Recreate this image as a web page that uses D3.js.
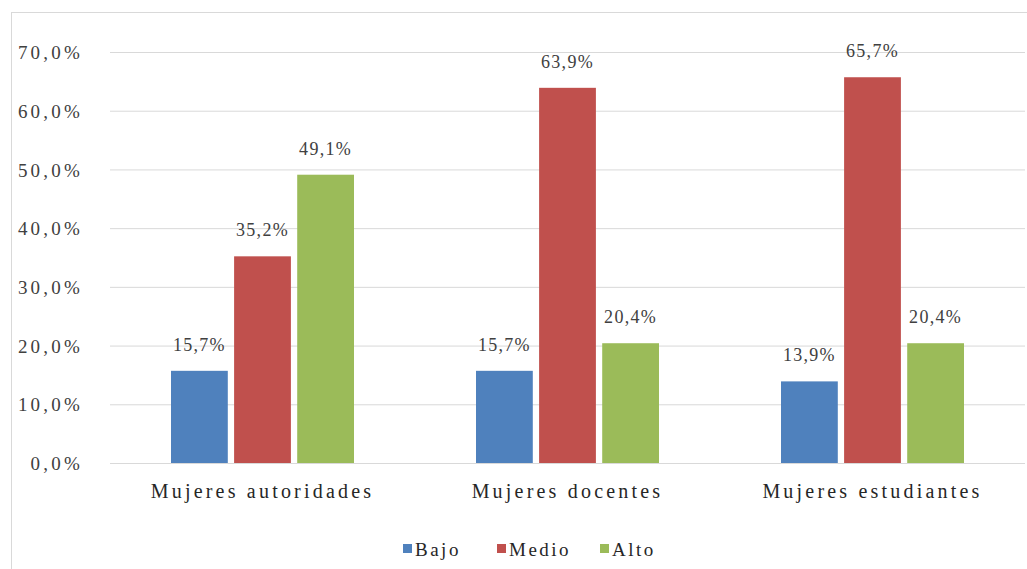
<!DOCTYPE html>
<html>
<head>
<meta charset="utf-8">
<script src="https://cdn.jsdelivr.net/npm/d3@7"></script>
<style>
  html, body { margin: 0; padding: 0; background: #fff; }
  svg { display: block; }
</style>
</head>
<body>
<svg id="chart" width="1027" height="569" font-family="Liberation Serif"></svg>
<script>
const categories = ["Mujeres autoridades", "Mujeres docentes", "Mujeres estudiantes"];
const seriesNames = ["Bajo", "Medio", "Alto"];
const bajo = [15.7, 15.7, 13.9];
const medio = [35.2, 63.9, 65.7];
const alto = [49.1, 20.4, 20.4];
const bajoLabels = ["15,7%", "15,7%", "13,9%"];
const medioLabels = ["35,2%", "63,9%", "65,7%"];
const altoLabels = ["49,1%", "20,4%", "20,4%"];
const yTicks = [0, 10, 20, 30, 40, 50, 60, 70];
const yTickLabels = ["0,0%", "10,0%", "20,0%", "30,0%", "40,0%", "50,0%", "60,0%", "70,0%"];
const colors = ["#4F81BD", "#C0504D", "#9BBB59"];

const values = [bajo, medio, alto];
const labels = [bajoLabels, medioLabels, altoLabels];

const svg = d3.select("#chart");
const font = "Liberation Serif";

svg.append("rect").attr("x", 11.5).attr("y", 12.5).attr("width", 1030).attr("height", 570)
  .attr("fill", "none").attr("stroke", "#d9d9d9").attr("stroke-width", 1);

const plot = { left: 110, right: 1025, top: 52, bottom: 463 };

const x0 = d3.scaleBand().domain(categories).range([plot.left, plot.right]);
const groupW = 183;
const x1 = d3.scaleBand().domain(seriesNames).range([0, groupW]).paddingInner(0.1);
const y = d3.scaleLinear().domain([0, 70]).range([plot.bottom, plot.top]);

const yAxis = d3.axisLeft(y).tickValues(yTicks).tickSize(-(plot.right - plot.left))
  .tickFormat((d, i) => yTickLabels[i]).tickPadding(27);
const ga = svg.append("g").attr("transform", `translate(${plot.left},0)`).call(yAxis);
ga.select(".domain").remove();
ga.selectAll(".tick line").attr("stroke", "#d9d9d9").attr("stroke-width", 1);
ga.selectAll(".tick text").attr("fill", "#404040").attr("font-size", 19)
  .attr("letter-spacing", 3.2).attr("dy", "0.35em");

const groups = svg.append("g").selectAll("g").data(categories).join("g")
  .attr("transform", d => `translate(${x0(d) + (x0.bandwidth() - groupW) / 2},0)`);

seriesNames.forEach((s, si) => {
  groups.append("rect")
    .attr("x", x1(s))
    .attr("width", x1.bandwidth())
    .attr("y", (d, i) => y(values[si][i]))
    .attr("height", (d, i) => y(0) - y(values[si][i]))
    .attr("fill", colors[si]);
  groups.append("text")
    .attr("x", x1(s) + x1.bandwidth() / 2)
    .attr("y", (d, i) => y(values[si][i]) - 20)
    .attr("text-anchor", "middle")
    .attr("fill", "#404040")
    .attr("font-size", 18).attr("letter-spacing", 1.3)
    .text((d, i) => labels[si][i]);
});

svg.append("line").attr("x1", plot.left).attr("x2", plot.right).attr("y1", y(0) + 0.5).attr("y2", y(0) + 0.5)
  .attr("stroke", "#d9d9d9");

const xAxis = d3.axisBottom(x0).tickSize(0).tickPadding(21);
const gx = svg.append("g").attr("transform", `translate(0,${plot.bottom})`).call(xAxis);
gx.select(".domain").remove();
gx.selectAll(".tick text").attr("fill", "#262626").attr("font-size", 20).attr("letter-spacing", 3.2);

const lg = svg.append("g").attr("transform", "translate(0,549)");
const itemX = [403, 497, 600];
seriesNames.forEach((n, i) => {
  const g = lg.append("g").attr("transform", `translate(${itemX[i]},0)`);
  g.append("rect").attr("x", 0).attr("y", -5).attr("width", 9).attr("height", 9).attr("fill", colors[i]);
  g.append("text").attr("x", 12).attr("y", 0).attr("dy", "0.35em")
    .attr("fill", "#262626").attr("font-size", 19).attr("letter-spacing", 2.5).text(n);
});

svg.selectAll("g").attr("font-family", font);
svg.selectAll("text").attr("font-family", font).style("font-family", font);
</script>
</body>
</html>
